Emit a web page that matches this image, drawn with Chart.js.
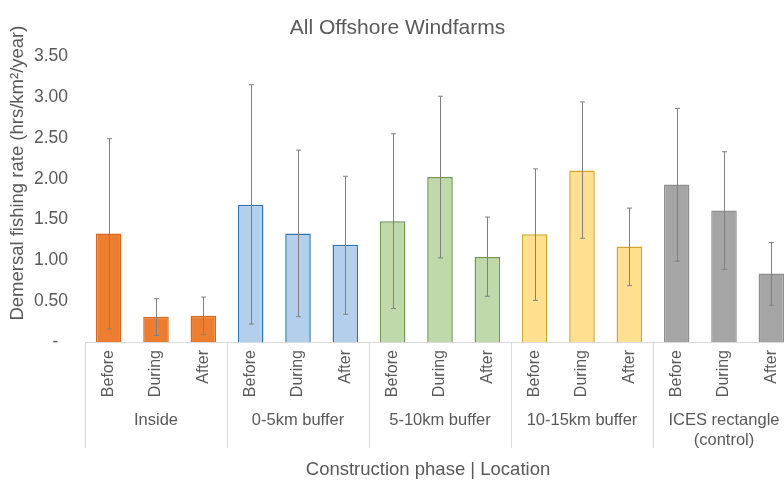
<!DOCTYPE html>
<html>
<head>
<meta charset="utf-8">
<script src="https://cdn.jsdelivr.net/npm/chart.js@4/dist/chart.umd.min.js"></script>
<style>
  html, body { margin: 0; padding: 0; background: #fff; overflow: hidden; }
  #wrap { width: 800px; height: 480px; }
</style>
</head>
<body>
<div id="wrap"><canvas id="rateChart"></canvas></div>
<script>
// construction phases within each location, and the locations themselves
const phases = ['Before', 'During', 'After'];
const locations = ['Inside', '0-5km buffer', '5-10km buffer', '10-15km buffer', ['ICES rectangle', '(control)']];

// mean demersal fishing rate (hrs/km2/year), one per location x phase
const rates = [1.33, 0.31, 0.32, 1.68, 1.33, 1.19, 1.48, 2.02, 1.04, 1.32, 2.10, 1.17, 1.93, 1.61, 0.84];
// error bar ends
const errHigh = [2.49, 0.53, 0.55, 3.15, 2.35, 2.03, 2.55, 3.01, 1.53, 2.12, 2.94, 1.64, 2.86, 2.33, 1.22];
const errLow = [0.16, 0.08, 0.09, 0.22, 0.31, 0.34, 0.41, 1.03, 0.56, 0.51, 1.27, 0.69, 0.99, 0.89, 0.45];

// fill / outline for each location
const fills = ['#ED7D31', '#B4CFEB', '#C0D9AA', '#FFE08F', '#A5A5A5'];
const borders = ['#D7691F', '#2E75B6', '#6E9552', '#D2A52C', '#8E8E8E'];

const textColor = '#595959';
const fontFamily = "'Liberation Sans', Arial, sans-serif";

const labels = locations.flatMap(() => phases);
const barFill = locations.flatMap((l, g) => phases.map(() => fills[g]));
const barBorder = locations.flatMap((l, g) => phases.map(() => borders[g]));

// whiskers on top of each bar
const errorBars = {
    id: 'errorBars',
    afterDatasetsDraw(chart) {
        const { ctx, scales: { y } } = chart;
        const meta = chart.getDatasetMeta(0);
        ctx.save();
        ctx.strokeStyle = '#808080';
        ctx.lineWidth = 1;
        meta.data.forEach((bar, i) => {
            const x = Math.round(bar.x) + 0.5;
            const top = y.getPixelForValue(errHigh[i]);
            const bot = y.getPixelForValue(errLow[i]);
            ctx.beginPath();
            ctx.moveTo(x, top); ctx.lineTo(x, bot);
            ctx.moveTo(x - 2.5, top); ctx.lineTo(x + 2.5, top);
            ctx.moveTo(x - 2.5, bot); ctx.lineTo(x + 2.5, bot);
            ctx.stroke();
        });
        ctx.restore();
    }
};

// group separators under the axis plus both axis titles
const axisDecor = {
    id: 'axisDecor',
    afterDraw(chart) {
        const { ctx, chartArea, scales: { x, x2 } } = chart;
        const step = x.width / labels.length;
        ctx.save();
        ctx.strokeStyle = '#D9D9D9';
        ctx.lineWidth = 1;
        for (let g = 0; g <= locations.length; g++) {
            const idx = Math.min(g * phases.length, labels.length - 1);
            let px = x.getPixelForValue(idx) + (g * phases.length < labels.length ? -step / 2 : step / 2);
            px = Math.round(px) + 0.5;
            ctx.beginPath();
            ctx.moveTo(px, chartArea.bottom);
            ctx.lineTo(px, x2.top + 42);
            ctx.stroke();
        }

        ctx.fillStyle = textColor;
        ctx.font = '18.5px ' + fontFamily;
        ctx.textAlign = 'center';
        ctx.textBaseline = 'middle';
        ctx.fillText('Construction phase | Location', (chartArea.left + chartArea.right) / 2 - 12, 470);

        ctx.translate(18, (chartArea.top + chartArea.bottom) / 2 - 26);
        ctx.rotate(-Math.PI / 2);
        ctx.fillText('Demersal fishing rate (hrs/km\u00B2/year)', 0, 0);
        ctx.restore();
    }
};

new Chart(document.getElementById('rateChart'), {
    type: 'bar',
    data: {
        labels: labels,
        datasets: [{
            data: rates,
            backgroundColor: barFill,
            borderColor: barBorder,
            borderWidth: 1.5,
            barPercentage: 0.54,
            categoryPercentage: 1
        }]
    },
    options: {
        responsive: true,
        maintainAspectRatio: false,
        animation: false,
        layout: { padding: { top: 0, right: 5, bottom: 0, left: 0 } },
        plugins: {
            legend: { display: false },
            tooltip: { enabled: false },
            title: {
                display: true,
                text: 'All Offshore Windfarms',
                color: textColor,
                font: { family: fontFamily, size: 21, weight: 'normal' },
                padding: { top: 16, bottom: 15 }
            }
        },
        scales: {
            x: {
                grid: { display: false, drawTicks: false },
                border: { display: true, color: '#D9D9D9', width: 1 },
                ticks: {
                    autoSkip: false,
                    maxRotation: 90,
                    minRotation: 90,
                    padding: 8,
                    color: textColor,
                    font: { family: fontFamily, size: 16 }
                },
                afterFit: s => { s.height = 64; }
            },
            x2: {
                type: 'category',
                position: 'bottom',
                labels: locations,
                offset: true,
                grid: { display: false, drawTicks: false },
                border: { display: false },
                ticks: {
                    autoSkip: false,
                    maxRotation: 0,
                    minRotation: 0,
                    padding: 5,
                    color: textColor,
                    font: { family: fontFamily, size: 16.5 }
                },
                afterFit: s => { s.height = 74; }
            },
            y: {
                min: 0,
                max: 3.5,
                grid: { display: false, drawTicks: false },
                border: { display: false },
                ticks: {
                    stepSize: 0.5,
                    padding: 17,
                    color: textColor,
                    font: { family: fontFamily, size: 17.5 },
                    callback: v => v === 0 ? '-  ' : v.toFixed(2)
                },
                afterFit: s => { s.width = 85; }
            }
        }
    },
    plugins: [errorBars, axisDecor]
});
</script>
</body>
</html>
